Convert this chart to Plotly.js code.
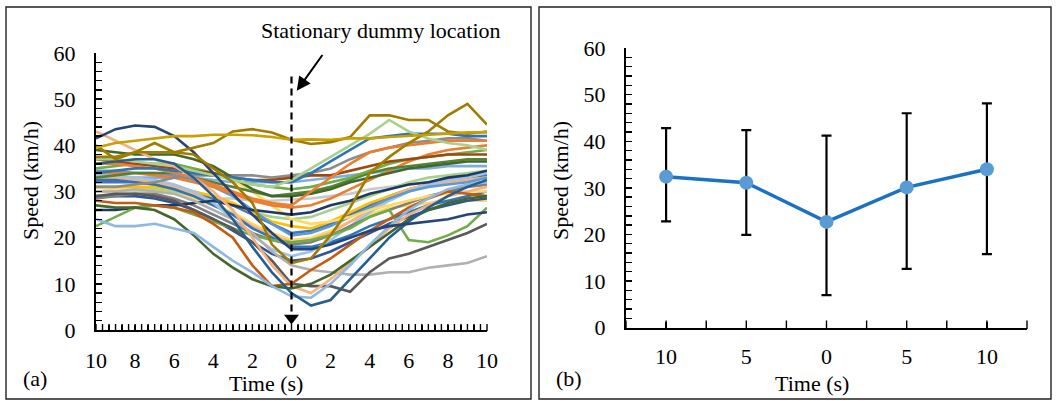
<!DOCTYPE html>
<html><head><meta charset="utf-8">
<script src="https://cdn.plot.ly/plotly-3.0.1.min.js"></script>
<style>html,body{margin:0;padding:0;background:#fff}#chart{width:1058px;height:401px}</style>
</head><body><div id="chart"></div>
<script>
// ---------- Panel (a) data: speed traces (km/h) vs time relative to dummy (s) ----------
const timeS = [-10,-9,-8,-7,-6,-5,-4,-3,-2,-1,0,1,2,3,4,5,6,7,8,9,10];
const xTickVals = [-10,-8,-6,-4,-2,0,2,4,6,8,10];
const xTickText = ['10','8','6','4','2','0','2','4','6','8','10'];
const yTickVals = [0,10,20,30,40,50,60];

const s21 = [30,30,30,30,29.5,29,28.5,28.5,28,28,28.3,28.5,29,29.5,30.5,31,31.5,32,32,32,32];
const s31 = [33,33,33,33,33,33,32.5,32,32,32,32,32.5,33,33.5,34,34.5,35,35,35.5,35.5,35.5];
const s22 = [31,31,31,30.5,30,29,28,27,25.5,24.5,24,24.5,26,27.5,29,30.5,32,33,33.5,34,34.5];
const s23 = [32,32,32,31.5,31,30,28.5,27,25,23,21,21.5,23,25,27,29,30.5,31.5,32.5,33,33.5];
const s24 = [31,31,31,31,30.5,30,29,27.5,25.5,23.5,22.5,22,23.5,25.5,27.5,29,30.5,31.5,32,32.5,33];
const s25 = [30,30.5,30.5,30,29.5,28.5,27,25.5,23,21,19.5,20,21.5,23.5,25,26.5,27,27.5,28,28,28];
const s26 = [33,33,32.5,32,31,29.5,27.5,25,22.5,20.5,19,19.5,21,23.5,26,28.5,30.5,31.5,32,32.5,33];
const s27 = [32.5,32.5,32,31.5,30.5,29,27,25,22,20,18,18,19,20.5,22.5,24,25.5,27,28,29,30];
const s28 = [33.5,33.5,33,32.5,31.5,30,27.5,24,20.5,17.5,16,17,19.5,22.5,25.5,28,30,31.5,32.5,33,34];
const s29 = [34.5,34.5,34,34,33.5,32.5,31,29,26,23,20.5,21,22.5,24.5,26.5,28.5,30,31,31.5,32,33];
const s30 = [29,29,29,28.5,27.5,26,24,21.5,19,16.5,15,15.5,17,19,21,23,24.5,26,27,28,28.5];
const s35 = [28.5,29,29.5,29.5,28.5,27,25,23,21,19.5,18.5,19,20.5,22.5,24.5,26,27.5,29,30,31,31.5];
const s34 = [36,36,36,36,35.5,35,34,32.5,30,27,24,23,23.5,24.5,26,27,28,29,29.5,30,30];
const s20 = [34,34,34,33.5,33,32,31,29.5,28,27,26.5,27,28.5,30.5,32.5,34.5,36.5,38,39,39.5,40];
const s16 = [33,33.5,34,34,34,33,32,31,30,29,29.5,30,31,32.5,34,35,35.5,36,36.5,37,37];
const s17 = [35,35.5,36,36,36,35,34,32.5,31.5,31,30.5,31,32,33,34.5,36,37,37.5,38,38.5,39];
const s12 = [26,26,26.5,27,27,27.5,28,27,26,25.5,25,25.5,27,28,29.5,30.5,31.5,32,33,33.5,34.5];
const s14 = [31,31,31.5,32,33,33.5,33.5,33.5,33.5,33,33.5,34,35,37,38.5,39.5,40.5,41,41.5,41.5,41];
const s15 = [37,36.5,36,35.5,35,34.5,34,33,32.5,32.5,33,33.5,33.5,34.5,35.5,36.5,37,37.5,38,38,38];
const s18 = [39,38.5,38,38,38,37,35.5,33,30.5,29,29,29.5,30.5,32,33,34,35,35.5,36,36.5,36.5];
const s32 = [36,36,35.5,35,34,33,31.5,30,28.5,27.5,27,30,33,36,38.5,39.5,40,40.5,41,41,41];
const s33 = [34,34.5,35,35,34.5,34,33.5,33,32.5,32,32,34,36.5,39,41.5,42,42.5,42.5,42.5,42,42];
const s13 = [37,37,36.5,36,35.5,34.5,33.5,32.5,31.5,31,32.5,35,37.5,40,42.5,45.5,43,41.5,40.5,40,39];
const s11 = [22.5,24.5,26.5,27,26.5,25,23.5,22,20.5,19.5,19,19.5,20.5,22,24.5,26,19.5,19,20.5,22.5,26.5];
const s10 = [30,30,30.5,30,29.5,28,26,24,21,17,14,13,12.5,12,12,12.5,12.5,13.5,14,14.5,16];
const s09 = [29,29.5,29.5,29,28,26,24,22,19,15,10,9.5,9.5,8.3,12.5,15.5,16.5,18,19.5,21,23];
const s19 = [43,41,39,37,35.5,33,30,26,20,14,9.5,8,11,14.5,18,22,25,27,29,30,31];
const s08 = [28,27.5,27.5,27,26.5,25.5,23,20,14,9.5,10,13,15.5,18.5,21.5,24,26.5,28.5,30,29.5,29];
const s07 = [27,26.5,26.5,26,24,20.5,16.5,13.5,11,9.5,9,10,12,15,18,21,24,26,27.5,28.5,29];
const s06 = [24,22.5,22.5,23,22,21,18,15,12.5,9.5,7.3,7,10,14,18.5,22.5,26,28.5,30.5,31.5,32];
const s05 = [36,36.5,37,37,36,33,29,24,18,12.5,8,5.3,6.5,11,15.5,20,23.5,26.5,29,31,32.5];
const s04 = [41.5,43.5,44.3,44,42,38.5,34,29.5,25,21,17.5,17.5,18.5,20,21.5,22.5,23,23.5,24,25,25.5];
const s03 = [37.5,37.5,38.5,38.5,38.5,38,35,32,27.5,18.5,14.5,15.5,20.5,26.5,34,37.5,40.5,43,46.5,49,44.5];
const s02 = [40,37,38.5,40.5,38.5,39.5,40.5,43,43.5,42.8,41.2,40.3,40.7,41.8,46.5,46.5,45.5,45.5,43,42.5,43];
const s01 = [39.5,40.5,41,41.5,42,42,42.3,42.3,42.2,41.8,41.2,41.3,41.2,41.5,41.5,41.8,42,42.3,42.5,42.8,42.8];

const curveSeries = [s21,s31,s22,s23,s24,s25,s26,s27,s28,s29,s30,s35,s34,s20,s16,s17,s12,s14,s15,s18,s32,s33,s13,s11,s10,s09,s19,s08,s07,s06,s05,s04,s03,s02,s01];
const curveColors = ['#C9C9C9','#7CAFDD','#A9D18E','#4472C4','#FFC000','#FFD966','#F4B183','#2E75B6','#9DC3E6','#5B9BD5','#2F5597','#7F7F7F','#FFD966','#ED7D31','#548235','#70AD47','#203864','#8C8C8C','#9E480E','#43682B','#ED7D31','#2E75B6','#A9D18E','#70AD47','#B0B0B0','#595959','#F4B183','#C55A11','#43682B','#8DB8E2','#255E91','#264478','#A07D00','#A07D00','#C8A000'];

// ---------- Panel (b) data ----------
const timeLabelsB = ['10','5','0','5','10'];
const meanSpeed  = [32.4,31.1,22.7,30.1,34.0];
const upperSpeed = [42.8,42.4,41.2,46.0,48.1];
const lowerSpeed = [22.8,19.9,7.0,12.6,15.8];

// ---------- build ----------
const W = 1058, H = 401;
const px = v => v / W, py = v => 1 - v / H;
const FONT = 'Liberation Serif, Times New Roman, serif';
const dummyTime = 0;

// tick sets: every 1/3 s (labels every 2 s), every 2 km/h (labels every 10), every half category
const tickPosA = [], tickTxtA = [];
for (let k = 0; k <= 60; k++) {
  const v = -10 + k / 3;
  tickPosA.push(v);
  const li = xTickVals.findIndex(t => Math.abs(t - v) < 1e-6);
  tickTxtA.push(li >= 0 ? xTickText[li] : '');
}
const tickPosY = [], tickTxtY = [];
for (let v = 0; v <= 60; v += 2) {
  tickPosY.push(v);
  tickTxtY.push(yTickVals.includes(v) ? String(v) : '');
}
const idxB = timeLabelsB.map((_, i) => i);
const tickPosB = [], tickTxtB = [];
for (let k = 0; k <= 10; k++) {
  const v = -0.5 + k * 0.5;
  tickPosB.push(v);
  tickTxtB.push(Number.isInteger(v) && v >= 0 && v < timeLabelsB.length ? timeLabelsB[v] : '');
}

const traces = curveSeries.map((ys, i) => ({
  type: 'scatter', mode: 'lines', x: timeS, y: ys, xaxis: 'x', yaxis: 'y',
  line: {color: curveColors[i], width: 2.6}, hoverinfo: 'skip'
}));
traces.push({
  type: 'scatter', mode: 'markers', x: [dummyTime], y: [2.6], xaxis: 'x', yaxis: 'y',
  marker: {symbol: 'triangle-down', size: 13, color: '#000'}, hoverinfo: 'skip'
});
// inside tick marks along the time axes (half a marker above the axis line)
const tickHalfA = 5 / 2 / (277 / 60);     // 5 px tall marks, in km/h units of panel a
const tickHalfB = 6 / 2 / (279.7 / 60);   // 6 px tall marks, panel b
traces.push({
  type: 'scatter', mode: 'markers', x: tickPosA, y: tickPosA.map(() => tickHalfA), xaxis: 'x', yaxis: 'y',
  marker: {symbol: 'line-ns-open', size: 5, color: '#000', line: {color: '#000', width: 1.4}},
  cliponaxis: false, hoverinfo: 'skip'
});
traces.push({
  type: 'scatter', mode: 'markers', x: tickPosB, y: tickPosB.map(() => tickHalfB), xaxis: 'x2', yaxis: 'y2',
  marker: {symbol: 'line-ns-open', size: 6, color: '#000', line: {color: '#000', width: 1.4}},
  cliponaxis: false, hoverinfo: 'skip'
});
traces.push({
  type: 'scatter', mode: 'lines+markers', x: idxB, y: meanSpeed, xaxis: 'x2', yaxis: 'y2',
  line: {color: '#1B72C4', width: 3.5},
  marker: {color: '#5B9BD5', size: 14},
  error_y: {type: 'data', symmetric: false,
    array: upperSpeed.map((u, i) => u - meanSpeed[i]),
    arrayminus: lowerSpeed.map((l, i) => meanSpeed[i] - l),
    color: '#000', thickness: 2.2, width: 5},
  hoverinfo: 'skip'
});

const axCommon = {
  showgrid: false, zeroline: false, showline: true, linecolor: '#000', linewidth: 2,
  ticks: 'inside', tickcolor: '#000', tickwidth: 1.4, ticklen: 6,
  tickfont: {family: FONT, size: 22, color: '#000'}, fixedrange: true
};

const layout = {
  width: W, height: H, margin: {l: 0, r: 0, t: 0, b: 0},
  paper_bgcolor: '#fff', plot_bgcolor: 'rgba(0,0,0,0)', showlegend: false,
  font: {family: FONT, size: 22, color: '#000'},
  xaxis: Object.assign({}, axCommon, {
    domain: [px(96), px(487)], range: [-10, 10], anchor: 'y',
    tickmode: 'array', tickvals: tickPosA, ticktext: tickTxtA, ticklen: 5, ticklabelstandoff: 10
  }),
  yaxis: Object.assign({}, axCommon, {
    domain: [py(330), py(53)], range: [0, 60], anchor: 'x',
    tickmode: 'array', tickvals: tickPosY, ticktext: tickTxtY, ticklabelstandoff: 14
  }),
  xaxis2: Object.assign({}, axCommon, {
    domain: [px(626), px(1027)], range: [-0.5, 4.5], anchor: 'y2',
    tickmode: 'array', tickvals: tickPosB, ticktext: tickTxtB, ticklabelstandoff: 8
  }),
  yaxis2: Object.assign({}, axCommon, {
    domain: [py(327.7), py(48)], range: [0, 60], anchor: 'x2',
    tickmode: 'array', tickvals: tickPosY, ticktext: tickTxtY, ticklabelstandoff: 14
  }),
  shapes: [
    {type: 'rect', xref: 'paper', yref: 'paper', x0: px(6), x1: px(531), y0: py(399), y1: py(7),
     line: {color: '#222', width: 1.4}},
    {type: 'rect', xref: 'paper', yref: 'paper', x0: px(539), x1: px(1051), y0: py(399), y1: py(7),
     line: {color: '#222', width: 1.4}},
    {type: 'line', xref: 'x', yref: 'y', x0: dummyTime, x1: dummyTime, y0: 4, y1: 55.3,
     line: {color: '#000', width: 2.2, dash: '7px,5px'}}
  ],
  annotations: [
    {text: 'Stationary dummy location', xref: 'paper', yref: 'paper', x: px(381), y: py(30),
     xanchor: 'center', yanchor: 'middle', showarrow: false, font: {family: FONT, size: 22, color: '#000'}},
    {text: '', xref: 'x', yref: 'y', x: 0.27, y: 51.8, ax: 26.7, ay: -37.4,
     showarrow: true, arrowhead: 2, arrowsize: 1.4, arrowwidth: 2, arrowcolor: '#000'},
    {text: 'Time (s)', xref: 'paper', yref: 'paper', x: px(266), y: py(383), xanchor: 'center', yanchor: 'middle',
     showarrow: false, font: {family: FONT, size: 22, color: '#000'}},
    {text: 'Time (s)', xref: 'paper', yref: 'paper', x: px(812), y: py(383), xanchor: 'center', yanchor: 'middle',
     showarrow: false, font: {family: FONT, size: 22, color: '#000'}},
    {text: 'Speed (km/h)', xref: 'paper', yref: 'paper', x: px(30), y: py(181), xanchor: 'center', yanchor: 'middle',
     textangle: -90, showarrow: false, font: {family: FONT, size: 22, color: '#000'}},
    {text: 'Speed (km/h)', xref: 'paper', yref: 'paper', x: px(560), y: py(181), xanchor: 'center', yanchor: 'middle',
     textangle: -90, showarrow: false, font: {family: FONT, size: 22, color: '#000'}},
    {text: '(a)', xref: 'paper', yref: 'paper', x: px(35), y: py(378), xanchor: 'center', yanchor: 'middle',
     showarrow: false, font: {family: FONT, size: 22, color: '#000'}},
    {text: '(b)', xref: 'paper', yref: 'paper', x: px(569), y: py(378), xanchor: 'center', yanchor: 'middle',
     showarrow: false, font: {family: FONT, size: 22, color: '#000'}}
  ]
};

Plotly.newPlot('chart', traces, layout, {displayModeBar: false, staticPlot: true});
</script>
</body></html>
